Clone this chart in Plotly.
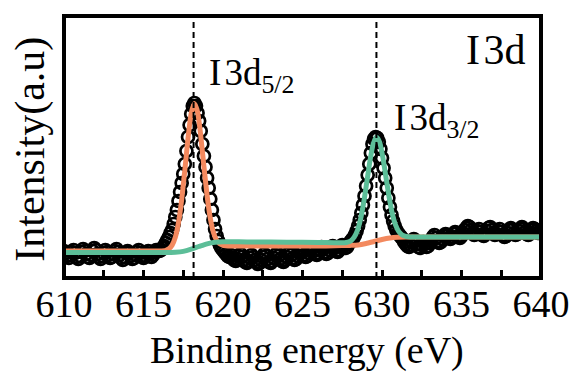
import plotly.graph_objects as go

# ---------------- data ----------------
# raw XPS intensity (a.u.), sampled every 0.1 eV from 610.0 to 640.0 eV
raw_610 = [27, 25, 22, 20, 23, 26, 28, 25, 21, 19]
raw_611 = [22, 26, 29, 27, 24, 21, 20, 23, 27, 30]
raw_612 = [28, 24, 21, 19, 22, 25, 28, 26, 23, 20]
raw_613 = [21, 24, 27, 29, 26, 23, 20, 18, 21, 25]
raw_614 = [27, 25, 22, 19, 20, 23, 26, 28, 25, 22]
raw_615 = [20, 22, 25, 27, 24, 21, 23, 26, 28, 27]
raw_616 = [27, 28, 30, 32, 35, 38, 41, 45, 48, 54]
raw_617 = [61, 68, 77, 86, 95, 104, 114, 127, 141, 153]
raw_618 = [164, 172, 175, 172, 165, 157, 147, 134, 122, 111]
raw_619 = [100, 90, 79, 68, 58, 49, 42, 37, 33, 30]
raw_620 = [28, 26, 24, 22, 21, 23, 20, 18, 17, 19]
raw_621 = [22, 24, 21, 18, 16, 15, 17, 20, 23, 21]
raw_622 = [18, 16, 14, 15, 18, 21, 24, 22, 19, 16]
raw_623 = [15, 17, 20, 23, 25, 22, 19, 17, 16, 18]
raw_624 = [21, 24, 26, 23, 20, 18, 19, 22, 25, 27]
raw_625 = [26, 23, 21, 22, 25, 28, 30, 27, 24, 23]
raw_626 = [25, 28, 31, 29, 26, 24, 25, 28, 31, 32]
raw_627 = [30, 27, 26, 28, 31, 33, 32, 30, 31, 34]
raw_628 = [36, 38, 40, 43, 47, 52, 58, 65, 73, 82]
raw_629 = [92, 103, 114, 125, 134, 139, 141, 140, 136, 129]
raw_630 = [120, 110, 100, 90, 80, 71, 63, 57, 52, 48]
raw_631 = [45, 43, 41, 39, 36, 34, 32, 31, 33, 36]
raw_632 = [39, 37, 34, 31, 30, 33, 36, 34, 31, 32]
raw_633 = [35, 38, 41, 43, 40, 37, 35, 36, 39, 42]
raw_634 = [44, 42, 40, 39, 41, 44, 46, 45, 42, 40]
raw_635 = [42, 45, 48, 50, 52, 51, 48, 45, 43, 44]
raw_636 = [47, 49, 46, 43, 42, 44, 47, 50, 51, 48]
raw_637 = [45, 43, 44, 47, 49, 46, 43, 41, 42, 45]
raw_638 = [48, 50, 48, 45, 43, 44, 47, 49, 51, 49]
raw_639 = [46, 44, 43, 45, 48, 50, 49, 47, 45, 46]
raw_640 = [48]

raw_intensity = (raw_610 + raw_611 + raw_612 + raw_613 + raw_614 + raw_615 + raw_616
                 + raw_617 + raw_618 + raw_619 + raw_620 + raw_621 + raw_622 + raw_623
                 + raw_624 + raw_625 + raw_626 + raw_627 + raw_628 + raw_629 + raw_630
                 + raw_631 + raw_632 + raw_633 + raw_634 + raw_635 + raw_636 + raw_637
                 + raw_638 + raw_639 + raw_640)
raw_energy = [round(610 + 0.1 * i, 1) for i in range(len(raw_intensity))]

# I 3d5/2 fitted component (orange)
fit52_energy = [610, 612, 614, 615, 616, 616.4, 616.6, 616.8, 617.0, 617.2, 617.4, 617.6,
                617.8, 618.0, 618.2, 618.4, 618.6, 618.8, 619.0, 619.2, 619.4, 619.6, 619.8,
                620.0, 620.5, 621, 622, 624, 626, 627, 628, 628.5, 629, 629.5, 630, 630.5,
                631, 631.5, 632, 634, 636, 638, 640]
fit52_intensity = [27, 27, 27, 27, 27.1, 27.7, 29.2, 32.9, 40.8, 55.3, 78.2, 108.0,
                   139.7, 164.7, 174.5, 166.1, 142.3, 111.6, 82.4, 59.9, 45.6, 37.8, 34.2,
                   32.7, 32, 32, 32, 32, 32, 32.2, 32.6, 33, 34.5, 36.5, 38.5, 40,
                   40.7, 41, 41, 41, 41, 41, 41]

# I 3d3/2 fitted component (green)
fit32_energy = [610, 612, 614, 616, 616.5, 617, 617.5, 618, 618.5, 619, 619.5, 620, 621,
                622, 624, 626, 627, 627.65, 627.85, 628.05, 628.25, 628.45, 628.65, 628.85,
                629.05, 629.25, 629.45, 629.65, 629.85, 630.05, 630.25, 630.45, 630.65,
                630.85, 631.05, 631.25, 631.45, 631.65, 632, 633, 634, 636, 638, 640]
fit32_intensity = [25.4, 25.4, 25.4, 25.5, 25.6, 25.8, 26.6, 28.8, 31.6, 34.2, 35.7, 36.2, 36.2,
                   36, 35.8, 35.5, 35.3, 35.3, 35.9, 37.3, 40.8, 47.4, 58.8, 75.6,
                   96.5, 117.9, 134.3, 141, 135.9, 120.9, 100.7, 80.6, 64.2,
                   53.2, 46.7, 43.3, 41.9, 41.3, 41, 41, 41, 41, 41, 41]

peak_positions = [618.15, 629.65]
x_tick_values = [610, 615, 620, 625, 630, 635, 640]
x_minor_tick_values = [612.5, 617.5, 622.5, 627.5, 632.5, 637.5]

FONT = "Liberation Serif"
ORANGE = "#F3895E"
GREEN = "#5CBE98"

fig = go.Figure()

fig.add_trace(go.Scatter(
    x=raw_energy, y=raw_intensity, mode="markers",
    marker=dict(symbol="circle-open", size=12, color="black", line=dict(width=2.7, color="black")),
    showlegend=False, hoverinfo="skip"))

fig.add_trace(go.Scatter(
    x=fit52_energy, y=fit52_intensity, mode="lines",
    line=dict(color=ORANGE, width=5, shape="spline", smoothing=0.6),
    showlegend=False))

fig.add_trace(go.Scatter(
    x=fit32_energy, y=fit32_intensity, mode="lines",
    line=dict(color=GREEN, width=5, shape="spline", smoothing=0.6),
    showlegend=False))

for xp in peak_positions:
    fig.add_shape(type="line", xref="x", yref="paper", x0=xp, x1=xp, y0=0, y1=1,
                  line=dict(color="black", width=2, dash="6px,4px"), layer="above")

# frame
fig.add_shape(type="rect", xref="paper", yref="paper", x0=0, x1=1, y0=0, y1=1,
              line=dict(color="black", width=4), layer="above")

fig.add_annotation(x=619.0, y=177, xref="x", yref="y", xanchor="left", yanchor="bottom",
                   text="I\u200a3d<sub>5/2</sub>", showarrow=False,
                   font=dict(family=FONT, size=37, color="black"))
fig.add_annotation(x=630.6, y=132, xref="x", yref="y", xanchor="left", yanchor="bottom",
                   text="I\u200a3d<sub>3/2</sub>", showarrow=False,
                   font=dict(family=FONT, size=37, color="black"))
fig.add_annotation(x=639.2, y=203, xref="x", yref="y", xanchor="right", yanchor="bottom",
                   text="I\u200a3d", showarrow=False,
                   font=dict(family=FONT, size=42, color="black"))

fig.add_annotation(x=0.51, y=-0.275, xref="paper", yref="paper", xanchor="center", yanchor="middle",
                   text="Binding energy (eV)", showarrow=False,
                   font=dict(family=FONT, size=38, color="black"))
fig.add_annotation(x=-0.071, y=0.49, xref="paper", yref="paper", xanchor="center", yanchor="middle",
                   text="Intensity(a.u)", showarrow=False, textangle=-90,
                   font=dict(family=FONT, size=42, color="black"))

fig.update_xaxes(range=[610, 640], tickvals=x_tick_values, ticks="inside", ticklen=8,
                 tickwidth=3, tickcolor="black", showgrid=False, zeroline=False, showline=False,
                 automargin=False,
                 tickfont=dict(family=FONT, size=38, color="black"),
                 minor=dict(tickvals=x_minor_tick_values, ticks="inside",
                            ticklen=8, tickwidth=3, tickcolor="black", showgrid=False))
fig.update_yaxes(range=[0, 262], showticklabels=False, ticks="", showgrid=False,
                 zeroline=False, showline=False, automargin=False)

fig.update_layout(template="none", width=575, height=376,
                  margin=dict(l=64, r=34, t=16, b=98, autoexpand=False),
                  plot_bgcolor="white", paper_bgcolor="white", showlegend=False)

fig.write_html("out.html", config={"displayModeBar": False},
               post_script="document.body.style.margin='0px';document.body.style.overflow='hidden';")
